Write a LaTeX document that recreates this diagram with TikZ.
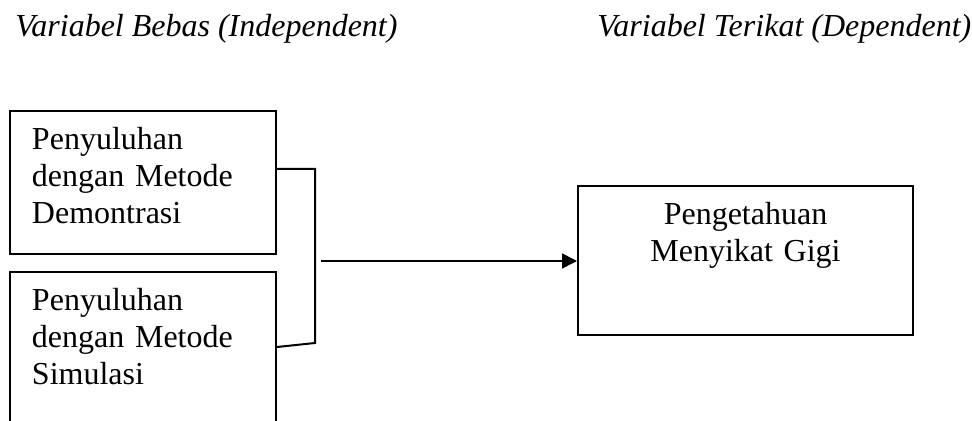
\documentclass[tikz,border=0pt]{standalone}
\usepackage{fontspec}
\setmainfont{Liberation Serif}
\usetikzlibrary{arrows.meta}
\tikzset{
    varbox/.style={draw, line width=1pt, anchor=north west, align=left,
        inner xsep=11pt, inner ysep=8pt, text width=111pt,
        font=\fontsize{16}{18.5}\selectfont},
    title/.style={anchor=base west, inner sep=0pt,
        font=\fontsize{16}{18}\selectfont\itshape},
}
\begin{document}
\begin{tikzpicture}[x=0.5pt,y=-0.5pt]
    \useasboundingbox (0,0) rectangle (972,421);
    \clip (0,0) rectangle (972,421);
    \node[title] (bebas) at (15,37) {Variabel Bebas (Independent)};
    \node[title] (terikat) at (597,37) {Variabel Terikat (Dependent)};
    % variabel bebas
    \node[varbox, text depth=44.4pt] (demo) at (9,110) {Penyuluhan\\dengan Metode\\Demontrasi};
    \node[varbox, text depth=60pt] (simul) at (9,271) {Penyuluhan\\dengan Metode\\Simulasi};
    % variabel terikat
    \node[varbox, align=center, text width=145.5pt, text depth=47.4pt] (tahu) at (577,185) {Pengetahuan\\Menyikat Gigi};
    % penghubung
    \coordinate (jt) at (315,169);
    \coordinate (jb) at (315,343);
    \coordinate (ar) at (321,261);
    \draw[line width=1pt] (jt -| demo.east) -- (jt) -- (jb) -- ([yshift=-2pt]jb -| simul.east);
    \draw[line width=0.8pt, -{Triangle[length=7.5pt,width=7.5pt]}] (ar) -- (ar -| tahu.west);
\end{tikzpicture}
\end{document}
